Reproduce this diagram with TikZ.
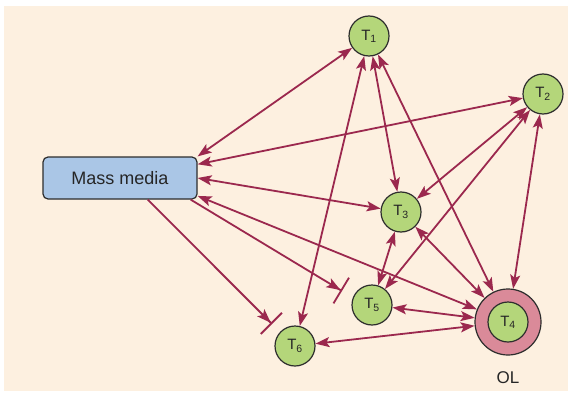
\documentclass[tikz,border=0pt]{standalone}
\usepackage{fontspec}
\setmainfont{Liberation Sans}
\usetikzlibrary{positioning,arrows.meta}

\definecolor{paper}{RGB}{253,240,224}
\definecolor{leaf}{RGB}{180,214,122}
\definecolor{sky}{RGB}{170,198,230}
\definecolor{rose}{RGB}{218,138,153}
\definecolor{wine}{RGB}{155,40,78}
\definecolor{rim}{RGB}{45,45,45}

\begin{document}
\begin{tikzpicture}[
  x=1pt, y=-1pt,
  every node/.style={font=\fontsize{15}{17}\selectfont, text=black!85},
  tnode/.style={
    circle, draw=rim, line width=1.2pt, fill=leaf,
    minimum size=40pt, inner sep=0pt
  },
  media/.style={
    draw=rim, line width=1.2pt, fill=sky, rounded corners=5pt,
    minimum width=154pt, minimum height=42pt,
    font=\fontsize{18}{20}\selectfont
  },
  ring/.style={circle, draw=rim, line width=1.2pt, fill=rose, minimum size=66pt, inner sep=0pt},
  link/.style={{Stealth[length=14pt,width=10pt,inset=3pt]}-{Stealth[length=14pt,width=10pt,inset=3pt]}, wine, line width=1.8pt},
  inhibit/.style={-{Stealth[length=14pt,width=10pt,inset=3pt] Bar[width=30pt]}, wine, line width=1.8pt}
]
  \useasboundingbox (0,0) rectangle (572,396);
  \fill[paper] (4,6) rectangle (568,391);

  % Media and targets
  \node[media] (mm) at (120,178) {Mass media};
  \node[tnode] (t1) at (369,36) {T\textsubscript{1}};
  \node[tnode] (t2) at (543,94) {T\textsubscript{2}};
  \node[tnode] (t3) at (401,212) {T\textsubscript{3}};
  \node[tnode] (t5) at (372,305) {T\textsubscript{5}};
  \node[tnode] (t6) at (295,346) {T\textsubscript{6}};

  % Opinion leader
  \node[ring] (ol) at (508,322) {};
  \node[tnode] (t4) at (ol) {T\textsubscript{4}};
  \node[below=12pt of ol, font=\fontsize{17}{19}\selectfont] (oltext) {OL};

  % Blocked ends
  \coordinate (bar5) at (342,291);
  \coordinate (bar6) at (272,324);

  % Arrows
  \draw[link] (mm.north east) -- (t1);
  \draw[link] (mm.10) -- (t2);
  \draw[link] (mm.east) -- (t3);
  \draw[link] (mm.-13) -- (ol);
  \draw[inhibit] (mm.-17) -- (bar5);
  \draw[inhibit] (mm.-38) -- (bar6);
  \draw[link] (t1) -- (t3);
  \draw[link] (t1) -- (ol);
  \draw[link] (t1) -- (t6);
  \draw[link] (t2) -- (t3);
  \draw[link] (t2) -- (t5);
  \draw[link] (t2) -- (ol);
  \draw[link] (t3) -- (t5);
  \draw[link] (t3) -- (ol);
  \draw[link] (t5) -- (ol);
  \draw[link] (t6) -- (ol);
\end{tikzpicture}
\end{document}
